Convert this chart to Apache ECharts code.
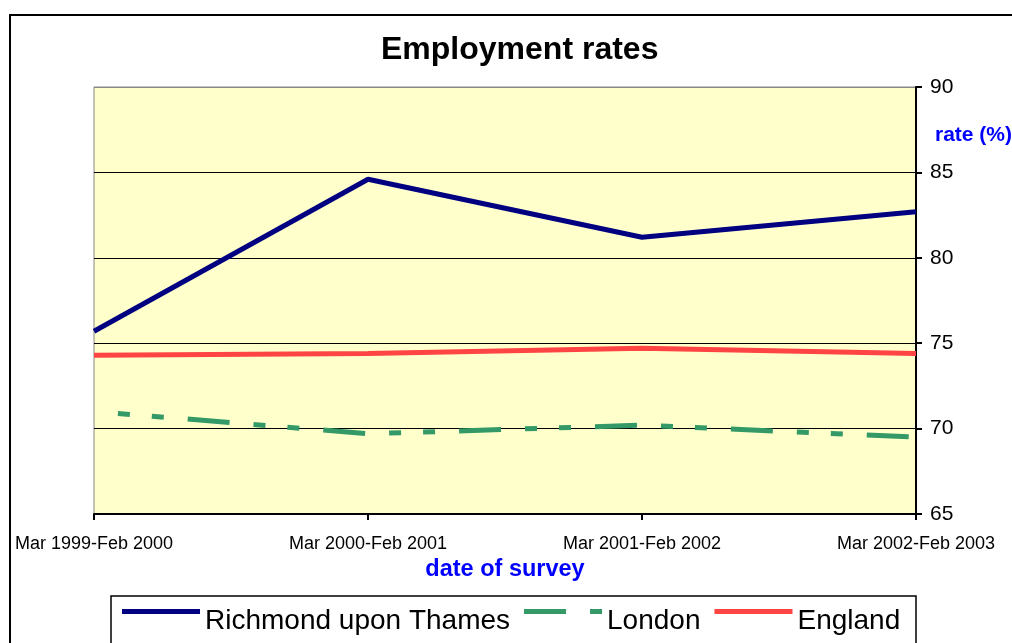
<!DOCTYPE html>
<html>
<head>
<meta charset="utf-8">
<script src="https://cdn.jsdelivr.net/npm/echarts@6/dist/echarts.min.js"></script>
<style>
html,body{margin:0;padding:0;background:#fff;}
#chart{width:1012px;height:643px;}
</style>
</head>
<body>
<div id="chart"></div>
<script>
var surveyDates = ['Mar 1999-Feb 2000', 'Mar 2000-Feb 2001', 'Mar 2001-Feb 2002', 'Mar 2002-Feb 2003'];
var richmond = [75.7, 84.6, 81.2, 82.7];
var london = [71.0, 69.7, 70.2, 69.5];
var england = [74.3, 74.4, 74.7, 74.4];
var rateTicks = [65, 70, 75, 80, 85, 90];

var font = '"Liberation Sans", Arial, sans-serif';
// legend samples sit near the top of the text row, like the original
var solidIcon = 'path://M0,0L78,0L78,5L0,5Z M0,24L0.1,24';
var dashIcon = 'path://M0,0L42,0L42,5L0,5Z M66,0L78,0L78,5L66,5Z M0,24L0.1,24';

var chart = echarts.init(document.getElementById('chart'));

chart.setOption({
    backgroundColor: '#fff',
    animation: false,
    title: {
        text: 'Employment rates',
        left: 376,
        top: 29,
        textStyle: {fontFamily: font, fontSize: 32, fontWeight: 'bold', color: '#000'}
    },
    grid: {
        left: 94, right: 96, top: 87, bottom: 129,
        show: true,
        backgroundColor: '#FFFFCC',
        borderColor: '#888',
        borderWidth: 1
    },
    legend: {
        left: 122,
        top: 607,
        padding: 0,
        itemWidth: 78,
        itemHeight: 24,
        itemGap: 14,
        itemStyle: {borderWidth: 0},
        lineStyle: {width: 0},
        textStyle: {fontFamily: font, fontSize: 28, color: '#000'},
        data: [
            {name: 'Richmond upon Thames', icon: solidIcon},
            {name: 'London', icon: dashIcon},
            {name: 'England', icon: solidIcon}
        ]
    },
    xAxis: {
        type: 'category',
        data: surveyDates,
        boundaryGap: false,
        axisLine: {lineStyle: {color: '#000', width: 2}},
        axisTick: {show: true, length: 6, lineStyle: {color: '#000', width: 2}},
        axisLabel: {
            fontFamily: font, fontSize: 18, color: '#000', margin: 21,
            interval: 0, letterSpacing: -0.6
        },
        splitLine: {show: false},
        name: 'date of survey',
        nameLocation: 'middle',
        nameGap: 44,
        nameTextStyle: {fontFamily: font, fontSize: 23.5, fontWeight: 'bold', color: '#0000FF'}
    },
    yAxis: {
        type: 'value',
        position: 'right',
        min: rateTicks[0],
        max: rateTicks[rateTicks.length - 1],
        interval: 5,
        axisLine: {show: true, lineStyle: {color: '#000', width: 2}},
        axisTick: {show: true, length: 6, lineStyle: {color: '#000', width: 2}},
        axisLabel: {fontFamily: font, fontSize: 21, color: '#000', margin: 14},
        splitLine: {lineStyle: {color: ['#000', '#000', '#000', '#000', '#000', '#888'], width: 1}}
    },
    graphic: [
        {
            type: 'rect',
            shape: {x: 10, y: 15, width: 1100, height: 700},
            style: {fill: 'none', stroke: '#000', lineWidth: 2},
            silent: true, z: -1
        },
        {
            type: 'rect',
            shape: {x: 111, y: 596, width: 805, height: 80},
            style: {fill: 'none', stroke: '#000', lineWidth: 1.5},
            silent: true
        },
        {
            type: 'text',
            left: 935,
            top: 125,
            style: {text: 'rate (%)', fill: '#0000FF', font: 'bold 21px ' + font}
        }
    ],
    series: [
        {
            name: 'Richmond upon Thames',
            type: 'line',
            data: richmond,
            symbol: 'none',
            color: '#000080',
            lineStyle: {color: '#000080', width: 5}
        },
        {
            name: 'London',
            type: 'line',
            data: london,
            symbol: 'none',
            color: '#339966',
            lineStyle: {color: '#339966', width: 5, type: [42, 24, 12, 22, 12, 24], dashOffset: 42}
        },
        {
            name: 'England',
            type: 'line',
            data: england,
            symbol: 'none',
            color: '#FF4444',
            lineStyle: {color: '#FF4444', width: 5}
        }
    ]
});
</script>
</body>
</html>
